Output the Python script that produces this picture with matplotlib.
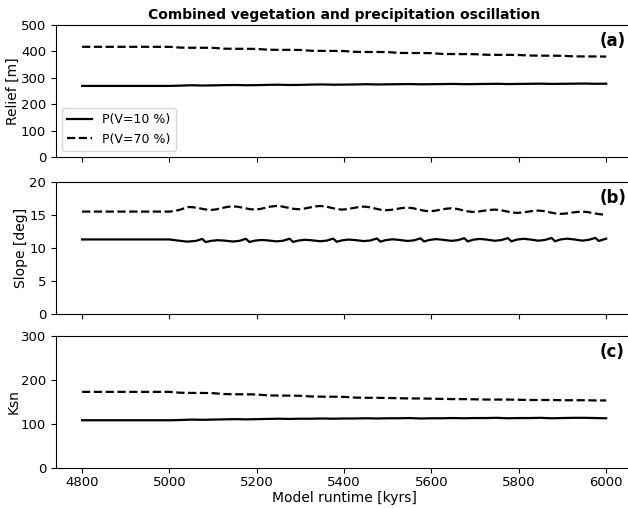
import numpy as np
import matplotlib.pyplot as plt

# model output, 4800-6000 kyrs, two vegetation cover scenarios
t_slow = [4800, 5000, 5025, 5050, 5075, 5100, 5125, 5150, 5175, 5200,
          5225, 5250, 5275, 5300, 5325, 5350, 5375, 5400, 5425, 5450,
          5475, 5500, 5525, 5550, 5575, 5600, 5625, 5650, 5675, 5700,
          5725, 5750, 5775, 5800, 5825, 5850, 5875, 5900, 5925, 5950,
          5975, 6000]

relief_v10 = [269, 269, 270, 271.5, 270.5, 271, 272, 272.5, 271.5, 272,
              273, 273.5, 272.5, 273, 274, 274.5, 273.5, 274, 274.5, 275.5,
              274.5, 275, 275.5, 276, 275, 275.5, 276, 276.5, 275.5, 276,
              276.5, 277, 276, 276.5, 277, 277.5, 276.5, 277, 277.5, 278,
              277, 277.5]
relief_v70 = [417, 417, 414, 413.5, 413.5, 413, 410, 409.5, 409.5, 409,
              406, 405.5, 405.5, 405, 402, 401.5, 401.5, 401, 398, 397.5,
              397.5, 397, 394, 393.5, 393.5, 393, 390, 389.5, 389.5, 389,
              387, 386.5, 386.5, 386, 384, 383.5, 383.5, 383, 381, 380.5,
              380.5, 380]

ksn_v10 = [108.5, 108.5, 109, 110, 109.5, 110, 110.5, 111, 110.5, 111,
           111.5, 112, 111.5, 112, 112, 112.5, 112, 112.5, 112.5, 113,
           112.5, 113, 113, 113.5, 112.5, 113, 113, 113.5, 113, 113.5,
           113.5, 114, 113, 113.5, 113.5, 114, 113, 113.5, 114, 114,
           113.5, 113]
ksn_v70 = [173, 173, 171, 170.5, 170.5, 170, 168, 167.5, 167.5, 167,
           165, 164.5, 164.5, 164, 162.5, 162, 162, 161.5, 160, 159.5,
           159.5, 159, 158.5, 158, 158, 157.5, 157, 156.5, 156.5, 156,
           155.5, 155.5, 155.5, 155, 154.5, 154.5, 154.5, 154, 154, 154,
           153.5, 153.5]

t_slope10 = [4800, 5000, 5015, 5040, 5060,
             5075, 5083, 5095, 5110, 5125, 5145, 5160,
             5175, 5183, 5195, 5210, 5225, 5245, 5260,
             5275, 5283, 5295, 5310, 5325, 5345, 5360,
             5375, 5383, 5395, 5410, 5425, 5445, 5460,
             5475, 5483, 5495, 5510, 5525, 5545, 5560,
             5575, 5583, 5595, 5610, 5625, 5645, 5660,
             5675, 5683, 5695, 5710, 5725, 5745, 5760,
             5775, 5783, 5795, 5810, 5825, 5845, 5860,
             5875, 5883, 5895, 5910, 5925, 5945, 5960,
             5975, 5983, 6000]
slope_v10 = [11.28, 11.28, 11.15, 10.95, 11.05,
             11.36, 10.88, 11.06, 11.17, 11.11, 10.97, 11.06,
             11.38, 10.90, 11.09, 11.20, 11.14, 10.99, 11.08,
             11.39, 10.91, 11.11, 11.23, 11.16, 11.01, 11.10,
             11.41, 10.93, 11.14, 11.26, 11.19, 11.03, 11.12,
             11.43, 10.95, 11.17, 11.30, 11.22, 11.05, 11.15,
             11.45, 10.97, 11.20, 11.33, 11.24, 11.07, 11.17,
             11.47, 10.98, 11.23, 11.36, 11.27, 11.08, 11.19,
             11.48, 10.99, 11.25, 11.38, 11.28, 11.09, 11.21,
             11.50, 11.00, 11.27, 11.40, 11.30, 11.10, 11.22,
             11.52, 11.05, 11.40]

t_slope70 = [4800, 5000, 5012, 5025, 5035,
             5045, 5057, 5070, 5083, 5095, 5107, 5120, 5133,
             5145, 5157, 5170, 5183, 5195, 5207, 5220, 5233,
             5245, 5257, 5270, 5283, 5295, 5307, 5320, 5333,
             5345, 5357, 5370, 5383, 5395, 5407, 5420, 5433,
             5445, 5457, 5470, 5483, 5495, 5507, 5520, 5533,
             5545, 5557, 5570, 5583, 5595, 5607, 5620, 5633,
             5645, 5657, 5670, 5683, 5695, 5707, 5720, 5733,
             5745, 5757, 5770, 5783, 5795, 5807, 5820, 5833,
             5845, 5857, 5870, 5883, 5895, 5907, 5920, 5933,
             5945, 5957, 5970, 5983, 6000]
slope_v70 = [15.5, 15.5, 15.58, 15.8, 16.02,
             16.2, 16.13, 15.98, 15.82, 15.75, 15.83, 16.03, 16.22,
             16.3, 16.23, 16.05, 15.88, 15.8, 15.88, 16.08, 16.27,
             16.35, 16.28, 16.1, 15.93, 15.85, 15.93, 16.1, 16.28,
             16.35, 16.27, 16.08, 15.88, 15.8, 15.87, 16.03, 16.18,
             16.25, 16.17, 15.98, 15.78, 15.7, 15.76, 15.9, 16.04,
             16.1, 16.02, 15.83, 15.63, 15.55, 15.62, 15.78, 15.93,
             16.0, 15.92, 15.73, 15.53, 15.45, 15.5, 15.63, 15.75,
             15.8, 15.73, 15.55, 15.38, 15.3, 15.35, 15.48, 15.6,
             15.65, 15.58, 15.4, 15.23, 15.15, 15.2, 15.33, 15.45,
             15.5, 15.43, 15.28, 15.12, 15.0]

fig = plt.figure(figsize=(6.28, 5.08), dpi=100)
ax1 = fig.add_axes([0.089, 0.691, 0.918, 0.26])
ax2 = fig.add_axes([0.089, 0.382, 0.918, 0.26], sharex=ax1)
ax3 = fig.add_axes([0.089, 0.0787, 0.918, 0.26], sharex=ax1)

ax1.plot(t_slow, relief_v10, 'k-', lw=1.6, label='P(V=10 %)')
ax1.plot(t_slow, relief_v70, 'k--', lw=1.6, label='P(V=70 %)')
ax1.set_ylim(0, 500)
ax1.set_ylabel('Relief [m]', fontsize=10, labelpad=0.5)
ax1.set_title('Combined vegetation and precipitation oscillation',
              fontsize=10, fontweight='bold', pad=4)
ax1.legend(loc='lower left', fontsize=9)

ax2.plot(t_slope10, slope_v10, 'k-', lw=1.6)
ax2.plot(t_slope70, slope_v70, 'k--', lw=1.6)
ax2.set_ylim(0, 20)
ax2.set_yticks([0, 5, 10, 15, 20])
ax2.set_ylabel('Slope [deg]', fontsize=10, labelpad=0.5)

ax3.plot(t_slow, ksn_v10, 'k-', lw=1.6)
ax3.plot(t_slow, ksn_v70, 'k--', lw=1.6)
ax3.set_ylim(0, 300)
ax3.set_yticks([0, 100, 200, 300])
ax3.set_ylabel('Ksn', fontsize=10, labelpad=0.5)
ax3.set_xlabel('Model runtime [kyrs]', fontsize=10, labelpad=1)

ax3.set_xticks([4800, 5000, 5200, 5400, 5600, 5800, 6000])
for ax, lab in zip([ax1, ax2, ax3], ['(a)', '(b)', '(c)']):
    ax.text(0.943, 0.88, lab, transform=ax.transAxes, fontsize=12,
            fontweight='bold', va='center', ha='left')
    ax.tick_params(labelsize=9.5)
    ax.tick_params(axis='x', pad=2.5)
for ax in [ax1, ax2]:
    ax.tick_params(labelbottom=False)

fig.savefig('out.png', dpi=100)
